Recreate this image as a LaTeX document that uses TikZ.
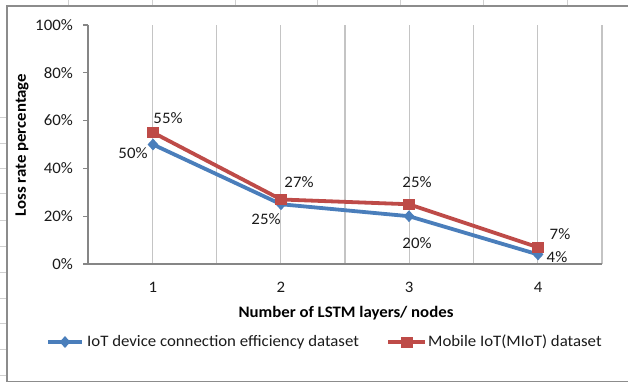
\documentclass[tikz,border=0pt]{standalone}
\usepackage{fontspec}
\setmainfont[FakeStretch=1.05]{Carlito}
\usetikzlibrary{shapes.geometric}
\definecolor{serA}{HTML}{4A7EBB}
\definecolor{serB}{HTML}{BE4B48}
\definecolor{gridc}{HTML}{C4C4C4}
\definecolor{axisc}{HTML}{868686}
\definecolor{framec}{HTML}{8C8C8C}
\definecolor{cellc}{HTML}{D0D0D0}
\definecolor{txtc}{HTML}{1A1A1A}
\begin{document}
\begin{tikzpicture}[x=1pt,y=-1pt,
  txt/.style={font=\fontsize{16}{18}\selectfont, inner sep=0pt, text=txtc},
  bold/.style={font=\fontsize{16}{18}\selectfont\bfseries, inner sep=0pt, text=black},
  gridl/.style={draw=gridc, line width=1.4pt},
  axisl/.style={draw=axisc, line width=1.2pt},
  lineA/.style={draw=serA, line width=3.8pt, line join=round},
  lineB/.style={draw=serB, line width=3.8pt, line join=round},
  markA/.style={diamond, fill=serA, inner sep=0pt, minimum width=11pt, minimum height=12pt},
  markB/.style={rectangle, fill=serB, inner sep=0pt, minimum width=12pt, minimum height=11pt},
  cell/.style={draw=cellc, line width=0.8pt}]
\useasboundingbox (0,0) rectangle (628,383);
% spreadsheet cell residue
\foreach \x in {68,152,235,317,400,483,567} \draw[cell] (\x,0) -- (\x,5);
\foreach \y in {117,143,168,193,220,246,272,298,323,349,375} \draw[cell] (0,\y) -- (6,\y);
% chart frame
\draw[draw=framec, line width=1.2pt] (640,6) -- (7,6) -- (7,381.5) -- (640,381.5);
% vertical gridlines
\foreach \k in {1,...,8} \draw[gridl] ({88+64.25*\k},25) -- ({88+64.25*\k},264);
% axes
\draw[axisl] (88,25) -- (88,264) -- (602,264);
\foreach \v in {0,20,40,60,80,100} {
  \draw[axisl] (83,{264-2.39*\v}) -- (88,{264-2.39*\v});
  \node[txt, anchor=east] (yl\v) at (73,{264-2.39*\v}) {\v\%};
}
% x labels
\node[txt] (x1) at (153,287) {1};
\node[txt] (x2) at (281,287) {2};
\node[txt] (x3) at (409,287) {3};
\node[txt] (x4) at (538,287) {4};
\node[bold] (xt) at (346,313) {Number of LSTM layers/ nodes};
\node[bold, rotate=90] (yt) at (22,145) {Loss rate percentage};
% data
\coordinate (a1) at (153,{264-2.39*50});
\coordinate (a2) at (281,{264-2.39*25});
\coordinate (a3) at (409,{264-2.39*20});
\coordinate (a4) at (538,{264-2.39*4});
\coordinate (b1) at (153,{264-2.39*55});
\coordinate (b2) at (281,{264-2.39*27});
\coordinate (b3) at (409,{264-2.39*25});
\coordinate (b4) at (538,{264-2.39*7});
\draw[lineA] (a1) -- (a2) -- (a3) -- (a4);
\draw[lineB] (b1) -- (b2) -- (b3) -- (b4);
\foreach \p in {a1,a2,a3,a4} \node[markA] (m\p) at (\p) {};
\foreach \p in {b1,b2,b3,b4} \node[markB] (m\p) at (\p) {};
% data labels
\node[txt] (lb1) at (168,118) {55\%};
\node[txt] (la1) at (133,153) {50\%};
\node[txt] (lb2) at (299,182) {27\%};
\node[txt] (la2) at (266,219) {25\%};
\node[txt] (lb3) at (417,182) {25\%};
\node[txt] (la3) at (417,243) {20\%};
\node[txt] (lb4) at (560,234) {7\%};
\node[txt] (la4) at (557,257) {4\%};
% legend
\coordinate (ga) at (48,342);
\coordinate (gb) at (82,342);
\draw[lineA] (ga) -- (gb);
\node[markA] (gam) at (65,342) {};
\node[txt, anchor=west] (gat) at (87,342) {IoT device connection efficiency dataset};
\coordinate (gc) at (388,342);
\coordinate (gd) at (425,342);
\draw[lineB] (gc) -- (gd);
\node[markB] (gbm) at (407,342) {};
\node[txt, anchor=west] (gbt) at (428,342) {Mobile IoT(MIoT) dataset};
\end{tikzpicture}
\end{document}
